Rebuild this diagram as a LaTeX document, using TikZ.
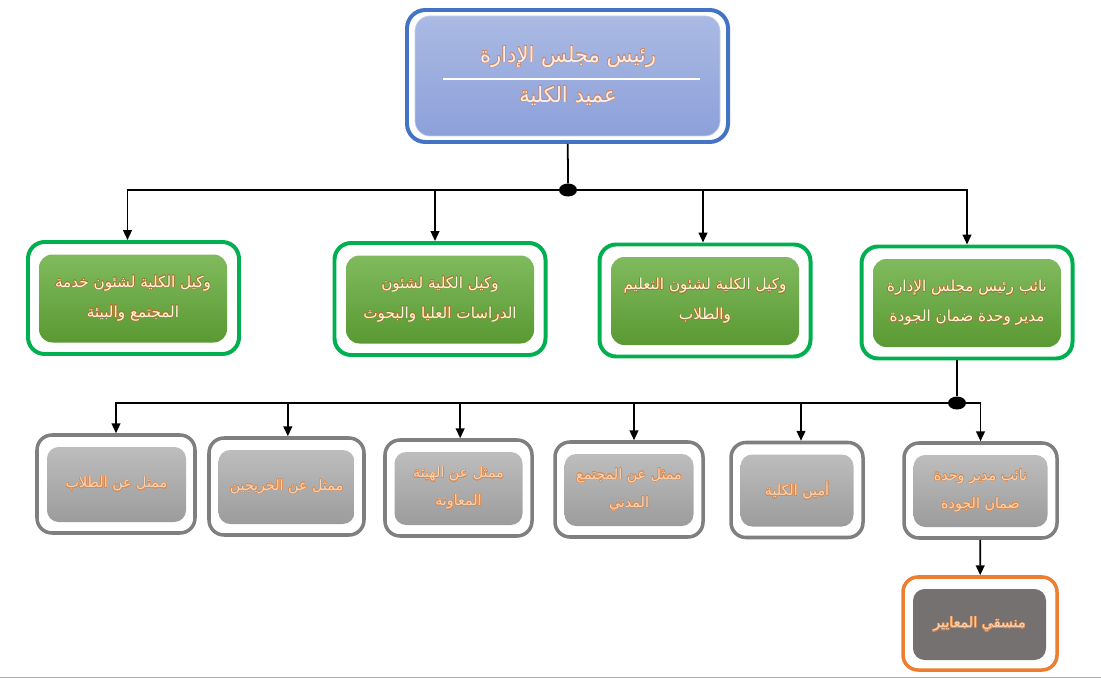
\documentclass[tikz,border=0pt]{standalone}
\usepackage{fontspec}
\newfontfamily\arabicfont[Script=Arabic]{DejaVu Sans}
\TeXXeTstate=1
\usepackage{contour}
\contourlength{0.45pt}
\usetikzlibrary{arrows.meta,shapes.geometric}
\definecolor{bluebd}{HTML}{4472C4}
\definecolor{bluetop}{HTML}{AABAE4}
\definecolor{bluebot}{HTML}{8DA0D9}
\definecolor{greenbd}{HTML}{00B050}
\definecolor{greentop}{HTML}{80BA5E}
\definecolor{greenbot}{HTML}{5A9932}
\definecolor{greybd}{HTML}{7F7F7F}
\definecolor{greytop}{HTML}{BDBDBD}
\definecolor{greybot}{HTML}{9C9C9C}
\definecolor{orangebd}{HTML}{ED7D31}
\definecolor{darkfill}{HTML}{767171}
\definecolor{txtpink}{HTML}{FDEDE4}
\definecolor{glowpink}{HTML}{C98A6C}
\definecolor{txtcream}{HTML}{FFF6DC}
\definecolor{glowgreen}{HTML}{A7772F}
\definecolor{txtorange}{HTML}{FBD3B0}
\definecolor{gloworange}{HTML}{D88A52}
\newcommand\glowtx[3]{\contour{#1}{\textcolor{#2}{#3}}}
\begin{document}
\begin{tikzpicture}[x=0.03cm,y=-0.03cm,
  outerB/.style={draw=bluebd, line width=3.4pt, rounded corners=0.55cm, fill=white, inner sep=0pt},
  innerB/.style={rounded corners=0.45cm, top color=bluetop, bottom color=bluebot, draw=bluetop!70!white, line width=0.6pt, inner sep=0pt},
  outerG/.style={draw=greenbd, line width=3.4pt, rounded corners=0.5cm, fill=white, inner sep=0pt, minimum width=211*0.03cm, minimum height=112*0.03cm},
  innerG/.style={rounded corners=0.4cm, top color=greentop, bottom color=greenbot, inner sep=0pt, minimum width=188*0.03cm, minimum height=88*0.03cm, align=center, font=\arabicfont\fontsize{13}{25.5}\selectfont},
  outerS/.style={draw=greybd, line width=3pt, rounded corners=0.45cm, fill=white, inner sep=0pt},
  innerS/.style={rounded corners=0.35cm, top color=greytop, bottom color=greybot, inner sep=0pt, align=center, font=\arabicfont\fontsize{12.2}{24}\selectfont},
  outerO/.style={draw=orangebd, line width=3pt, rounded corners=0.45cm, fill=white, inner sep=0pt},
  innerO/.style={rounded corners=0.35cm, fill=darkfill, inner sep=0pt, align=center, font=\arabicfont\fontsize{12.2}{24}\selectfont},
  jdot/.style={ellipse, fill=black, inner sep=0pt, minimum width=18*0.03cm, minimum height=13*0.03cm},
  conn/.style={draw=black, line width=1.5pt},
  arr/.style={conn, -{Triangle[length=8.5pt,width=7.5pt]}},
  txtT/.style={font=\arabicfont\fontsize{18}{20}\selectfont, inner sep=0pt}
]
\useasboundingbox (0,0) rectangle (1101,678);
\draw[draw=black!32, line width=0.8pt] (0,677) -- (1101,677);

% top box
\node[outerB, minimum width=321*0.03cm, minimum height=132*0.03cm] (top) at (567.5,76) {};
\node[innerB, minimum width=305*0.03cm, minimum height=120*0.03cm] (topin) at (567.5,76) {};
\node[txtT] (t1) at (568,57) {\glowtx{glowpink}{txtpink}{\beginR رئيس مجلس الإدارة\endR}};
\node[txtT] (t2) at (568,96) {\glowtx{glowpink}{txtpink}{\beginR عميد الكلية\endR}};
\coordinate (wl1) at (443,79);
\coordinate (wl2) at (700,79);
\draw[white, line width=1.6pt] (wl1) -- (wl2);

% junction dots
\node[jdot] (j1) at (568,190) {};
\node[jdot] (j2) at (957,403) {};

% green boxes
\node[outerG] (g1) at (133.5,298) {};
\node[innerG] (g1i) at (133,298.5) {\glowtx{glowgreen}{txtcream}{\beginR وكيل الكلية لشئون خدمة\endR}\\\glowtx{glowgreen}{txtcream}{\beginR المجتمع والبيئة\endR}};
\node[outerG] (g2) at (440,299) {};
\node[innerG] (g2i) at (440,299.5) {\glowtx{glowgreen}{txtcream}{\beginR وكيل الكلية لشئون\endR}\\\glowtx{glowgreen}{txtcream}{\beginR الدراسات العليا والبحوث\endR}};
\node[outerG] (g3) at (705,300.5) {};
\node[innerG] (g3i) at (705,301) {\glowtx{glowgreen}{txtcream}{\beginR وكيل الكلية لشئون التعليم\endR}\\\glowtx{glowgreen}{txtcream}{\beginR والطلاب\endR}};
\node[outerG] (g4) at (967,302.5) {};
\node[innerG] (g4i) at (967,303) {\glowtx{glowgreen}{txtcream}{\beginR نائب رئيس مجلس الإدارة\endR}\\\glowtx{glowgreen}{txtcream}{\beginR مدير وحدة ضمان الجودة\endR}};

% grey boxes
\node[outerS, minimum width=158*0.03cm, minimum height=98*0.03cm] (s1) at (116,484) {};
\node[innerS, minimum width=139*0.03cm, minimum height=75*0.03cm] (s1i) at (116.5,484.5) {\glowtx{gloworange}{txtorange}{\beginR ممثل عن الطلاب\endR}};
\node[outerS, minimum width=155*0.03cm, minimum height=97*0.03cm] (s2) at (286.5,486.5) {};
\node[innerS, minimum width=136*0.03cm, minimum height=74*0.03cm] (s2i) at (286.5,487) {\glowtx{gloworange}{txtorange}{\beginR ممثل عن الخريجين\endR}};
\node[outerS, minimum width=147*0.03cm, minimum height=96*0.03cm] (s3) at (458.5,488) {};
\node[innerS, minimum width=128*0.03cm, minimum height=73*0.03cm] (s3i) at (458.5,488.5) {\glowtx{gloworange}{txtorange}{\beginR ممثل عن الهيئة\endR}\\\glowtx{gloworange}{txtorange}{\beginR المعاونة\endR}};
\node[outerS, minimum width=148*0.03cm, minimum height=95*0.03cm] (s4) at (629,489.5) {};
\node[innerS, minimum width=129*0.03cm, minimum height=72*0.03cm] (s4i) at (629,490) {\glowtx{gloworange}{txtorange}{\beginR ممثل عن المجتمع\endR}\\\glowtx{gloworange}{txtorange}{\beginR المدني\endR}};
\node[outerS, minimum width=132*0.03cm, minimum height=95*0.03cm] (s5) at (797,490) {};
\node[innerS, minimum width=113*0.03cm, minimum height=72*0.03cm] (s5i) at (797,490.5) {\glowtx{gloworange}{txtorange}{\beginR أمين الكلية\endR}};
\node[outerS, minimum width=153*0.03cm, minimum height=95*0.03cm] (s6) at (980.5,490.5) {};
\node[innerS, minimum width=134*0.03cm, minimum height=72*0.03cm] (s6i) at (980.5,491) {\glowtx{gloworange}{txtorange}{\beginR نائب مدير وحدة\endR}\\\glowtx{gloworange}{txtorange}{\beginR ضمان الجودة\endR}};

% orange box
\node[outerO, minimum width=154*0.03cm, minimum height=93*0.03cm] (o1) at (980,623.5) {};
\node[innerO, minimum width=133*0.03cm, minimum height=71*0.03cm] (o1i) at (979.5,624.5) {\glowtx{gloworange}{txtorange}{\beginR منسقي المعايير\endR}};

% connectors level 1
\draw[conn] (top) -- (j1);
\draw[arr] (j1.center) -| ([xshift=-0.18cm]g1.north);
\draw[arr] (j1.center) -| ([xshift=-0.15cm]g2.north);
\draw[arr] (j1.center) -| ([xshift=-0.06cm]g3.north);
\draw[arr] (j1.center) -| (g4);
% connectors level 2
\draw[conn] (g4.south -| j2) -- (j2);
\draw[arr] (j2.center) -| (s1);
\draw[arr] (j2.center) -| ([xshift=0.04cm]s2.north);
\draw[arr] (j2.center) -| ([xshift=0.05cm]s3.north);
\draw[arr] (j2.center) -| ([xshift=0.15cm]s4.north);
\draw[arr] (j2.center) -| ([xshift=0.12cm]s5.north);
\draw[arr] (j2.center) -| (s6);
\draw[arr] (s6) -- (o1);
\end{tikzpicture}
\end{document}
